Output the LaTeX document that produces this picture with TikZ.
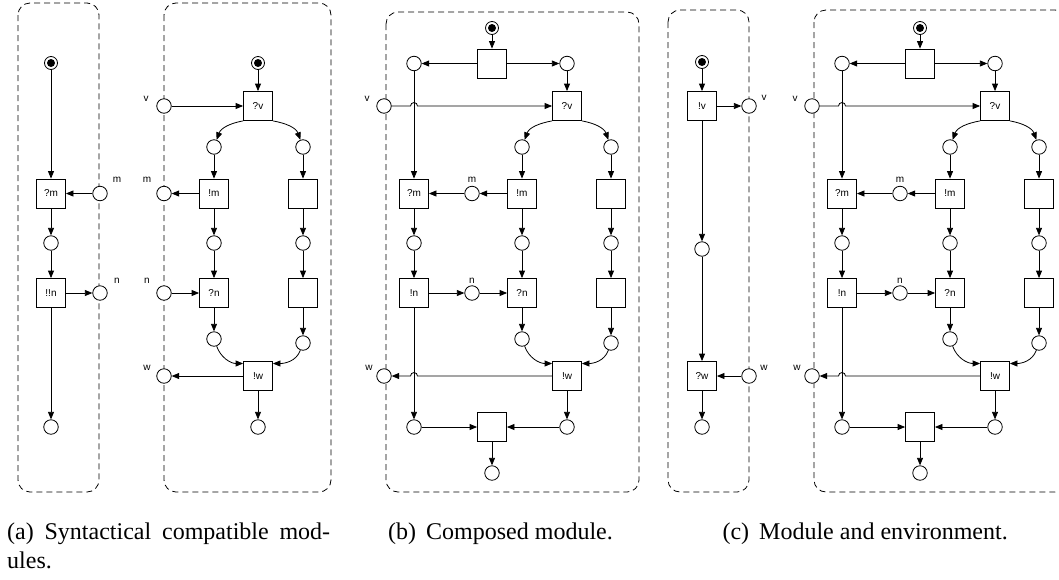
\documentclass[tikz,border=0pt]{standalone}
\usepackage{fontspec}
\setmainfont{Liberation Serif}
\newfontfamily\lsans{Liberation Sans}
\usetikzlibrary{arrows.meta,calc}

% Composed module: #1 = name prefix, #2 = top of the dashed frame
\newcommand\composedmodule[2]{%
  \draw[modbox] (386,#2) rectangle (639,492);
  \node[ini] (#1i) at (492,28) {};
  \node[trn] (#1t0) at (492,63.5) {};
  \node[plc] (#1pl) at (414,63.5) {};
  \node[plc] (#1pr) at (567,63.5) {};
  \node[trn] (#1qv) at (567,106) {?v};
  \node[plc] (#1v) at (384,106) {};
  \node[lbl] (#1vl) at (367,99) {v};
  \node[plc] (#1p1) at (522,147) {};
  \node[plc] (#1p2) at (611,147) {};
  \node[trn] (#1qm) at (414,193.5) {?m};
  \node[plc] (#1m) at (472,193.5) {};
  \node[lbl] (#1ml) at (472,180) {m};
  \node[trn] (#1em) at (522,193.5) {!m};
  \node[trn] (#1t1) at (611,193.5) {};
  \node[plc] (#1p3) at (414,243) {};
  \node[plc] (#1p4) at (522,243) {};
  \node[plc] (#1p5) at (611,243) {};
  \node[trn] (#1en) at (414,293) {!n};
  \node[plc] (#1n) at (472,293) {};
  \node[lbl] (#1nl) at (472,281) {n};
  \node[trn] (#1qn) at (522,293) {?n};
  \node[trn] (#1t2) at (611,293) {};
  \node[plc] (#1p6) at (522,339) {};
  \node[plc] (#1p7) at (611,343) {};
  \node[trn] (#1ew) at (567,376) {!w};
  \node[plc] (#1w) at (384,376) {};
  \node[lbl] (#1wl) at (369,368) {w};
  \node[plc] (#1bl) at (414,427) {};
  \node[plc] (#1br) at (567,427) {};
  \node[trn] (#1tb) at (492,427) {};
  \node[plc] (#1e) at (492,473) {};
  \draw[arr] (#1i) -- (#1t0);
  \draw[arr] (#1t0) -- (#1pl);
  \draw[arr] (#1t0) -- (#1pr);
  \draw[arr] (#1pr) -- (#1qv);
  \draw[arr] (#1v) -- ($(#1v -| #1pl)+(-3.5,0)$)
     arc[start angle=180,end angle=0,radius=3.5pt] -- (#1qv);
  \draw[arr] (#1pl) -- (#1qm);
  \draw[arr] (#1qv.south west) to[out=190,in=70] (#1p1);
  \draw[arr] (#1qv.south east) to[out=-10,in=110] (#1p2);
  \draw[arr] (#1p1) -- (#1em);
  \draw[arr] (#1p2) -- (#1t1);
  \draw[arr] (#1em) -- (#1m);
  \draw[arr] (#1m) -- (#1qm);
  \draw[arr] (#1qm) -- (#1p3);
  \draw[arr] (#1em) -- (#1p4);
  \draw[arr] (#1t1) -- (#1p5);
  \draw[arr] (#1p3) -- (#1en);
  \draw[arr] (#1p4) -- (#1qn);
  \draw[arr] (#1p5) -- (#1t2);
  \draw[arr] (#1en) -- (#1n);
  \draw[arr] (#1n) -- (#1qn);
  \draw[arr] (#1qn) -- (#1p6);
  \draw[arr] (#1t2) -- (#1p7);
  \draw[arr] (#1p6) to[out=-70,in=180] (#1ew.140);
  \draw[arr] (#1p7) to[out=-110,in=0] (#1ew.40);
  \draw[arr] (#1ew) -- ($(#1w -| #1en)+(3.5,0)$)
     arc[start angle=0,end angle=180,radius=3.5pt] -- (#1w);
  \draw[arr] (#1en) -- (#1bl);
  \draw[arr] (#1ew) -- (#1br);
  \draw[arr] (#1bl) -- (#1tb);
  \draw[arr] (#1br) -- (#1tb);
  \draw[arr] (#1tb) -- (#1e);
}

\begin{document}
\begin{tikzpicture}[x=1pt,y=-1pt,
  plc/.style={circle,draw,fill=white,line width=0.8pt,minimum size=14.5pt,inner sep=0pt},
  ini/.style={plc,minimum size=13pt,
    path picture={\fill[black] (path picture bounding box.center) circle[radius=4pt];}},
  trn/.style={rectangle,draw,fill=white,line width=0.8pt,minimum size=29pt,inner sep=0pt,
    font=\lsans\fontsize{10}{12}\selectfont},
  lbl/.style={font=\lsans\fontsize{10}{12}\selectfont,inner sep=0pt},
  arr/.style={line width=0.8pt,-{Triangle[length=7.5pt,width=6pt]}},
  modbox/.style={draw,line width=0.8pt,dash pattern=on 6pt off 4pt,rounded corners=12pt},
  captxt/.style={font=\fontsize{24}{29}\selectfont,inner sep=0pt}]

\clip (0,0) rectangle (1059,579);

% ---------- (a) left module ----------
\draw[modbox] (18,3) rectangle (99,492);
\node[ini] (aLi) at (51,63) {};
\node[trn] (aLqm) at (51,193.5) {?m};
\node[plc] (aLm) at (100,193.5) {};
\node[lbl] (aLml) at (117,180) {m};
\node[plc] (aLp1) at (51,243) {};
\node[trn] (aLnn) at (51,293) {!!n};
\node[plc] (aLn) at (100,293) {};
\node[lbl] (aLnl) at (117,281) {n};
\node[plc] (aLe) at (51,427) {};
\draw[arr] (aLi) -- (aLqm);
\draw[arr] (aLm) -- (aLqm);
\draw[arr] (aLqm) -- (aLp1);
\draw[arr] (aLp1) -- (aLnn);
\draw[arr] (aLnn) -- (aLn);
\draw[arr] (aLnn) -- (aLe);

% ---------- (a) right module ----------
\draw[modbox] (164,3) rectangle (331,492);
\node[ini] (aRi) at (258,63) {};
\node[trn] (aRqv) at (258,106) {?v};
\node[plc] (aRv) at (164,106) {};
\node[lbl] (aRvl) at (146,99) {v};
\node[plc] (aRp1) at (214,147) {};
\node[plc] (aRp2) at (303,147) {};
\node[trn] (aRem) at (214,193.5) {!m};
\node[trn] (aRt1) at (303,193.5) {};
\node[plc] (aRm) at (164,193.5) {};
\node[lbl] (aRml) at (147,180) {m};
\node[plc] (aRp3) at (214,243) {};
\node[plc] (aRp4) at (303,243) {};
\node[trn] (aRqn) at (214,293) {?n};
\node[trn] (aRt2) at (303,293) {};
\node[plc] (aRn) at (164,293) {};
\node[lbl] (aRnl) at (147,281) {n};
\node[plc] (aRp5) at (214,339) {};
\node[plc] (aRp6) at (303,343) {};
\node[trn] (aRew) at (258,376) {!w};
\node[plc] (aRw) at (164,376) {};
\node[lbl] (aRwl) at (147,368) {w};
\node[plc] (aRe) at (258,427) {};
\draw[arr] (aRi) -- (aRqv);
\draw[arr] (aRv) -- (aRqv);
\draw[arr] (aRqv.south west) to[out=190,in=70] (aRp1);
\draw[arr] (aRqv.south east) to[out=-10,in=110] (aRp2);
\draw[arr] (aRp1) -- (aRem);
\draw[arr] (aRp2) -- (aRt1);
\draw[arr] (aRem) -- (aRm);
\draw[arr] (aRem) -- (aRp3);
\draw[arr] (aRt1) -- (aRp4);
\draw[arr] (aRp3) -- (aRqn);
\draw[arr] (aRp4) -- (aRt2);
\draw[arr] (aRn) -- (aRqn);
\draw[arr] (aRqn) -- (aRp5);
\draw[arr] (aRt2) -- (aRp6);
\draw[arr] (aRp5) to[out=-70,in=180] (aRew.140);
\draw[arr] (aRp6) to[out=-110,in=0] (aRew.40);
\draw[arr] (aRew) -- (aRw);
\draw[arr] (aRew) -- (aRe);

% ---------- (b) composed module ----------
\composedmodule{b}{12}

% ---------- (c) environment ----------
\draw[modbox] (668,10) rectangle (749,492);
\node[ini] (cLi) at (702,62) {};
\node[trn] (cLev) at (702,106) {!v};
\node[plc] (cLv) at (749,106) {};
\node[lbl] (cLvl) at (764,98) {v};
\node[plc] (cLp) at (702,249) {};
\node[trn] (cLqw) at (702,376) {?w};
\node[plc] (cLw) at (749,376) {};
\node[lbl] (cLwl) at (764,368) {w};
\node[plc] (cLe) at (702,427) {};
\draw[arr] (cLi) -- (cLev);
\draw[arr] (cLev) -- (cLv);
\draw[arr] (cLev) -- (cLp);
\draw[arr] (cLp) -- (cLqw);
\draw[arr] (cLw) -- (cLqw);
\draw[arr] (cLqw) -- (cLe);

% ---------- (c) module ----------
\begin{scope}[xshift=428pt]
  \composedmodule{cR}{10}
\end{scope}

% ---------- captions ----------
\node[captxt,anchor=base west] (capa) at (7,539)
  {\makebox[323pt][s]{(a) Syntactical compatible mod-}};
\node[captxt,anchor=base west] (capa2) at (7,568) {ules.};
\node[captxt,anchor=base west] (capb) at (388,539) {(b)\, Composed module.};
\node[captxt,anchor=base east] (capc) at (1008,539) {(c)\, Module and environment.};
\end{tikzpicture}
\end{document}
